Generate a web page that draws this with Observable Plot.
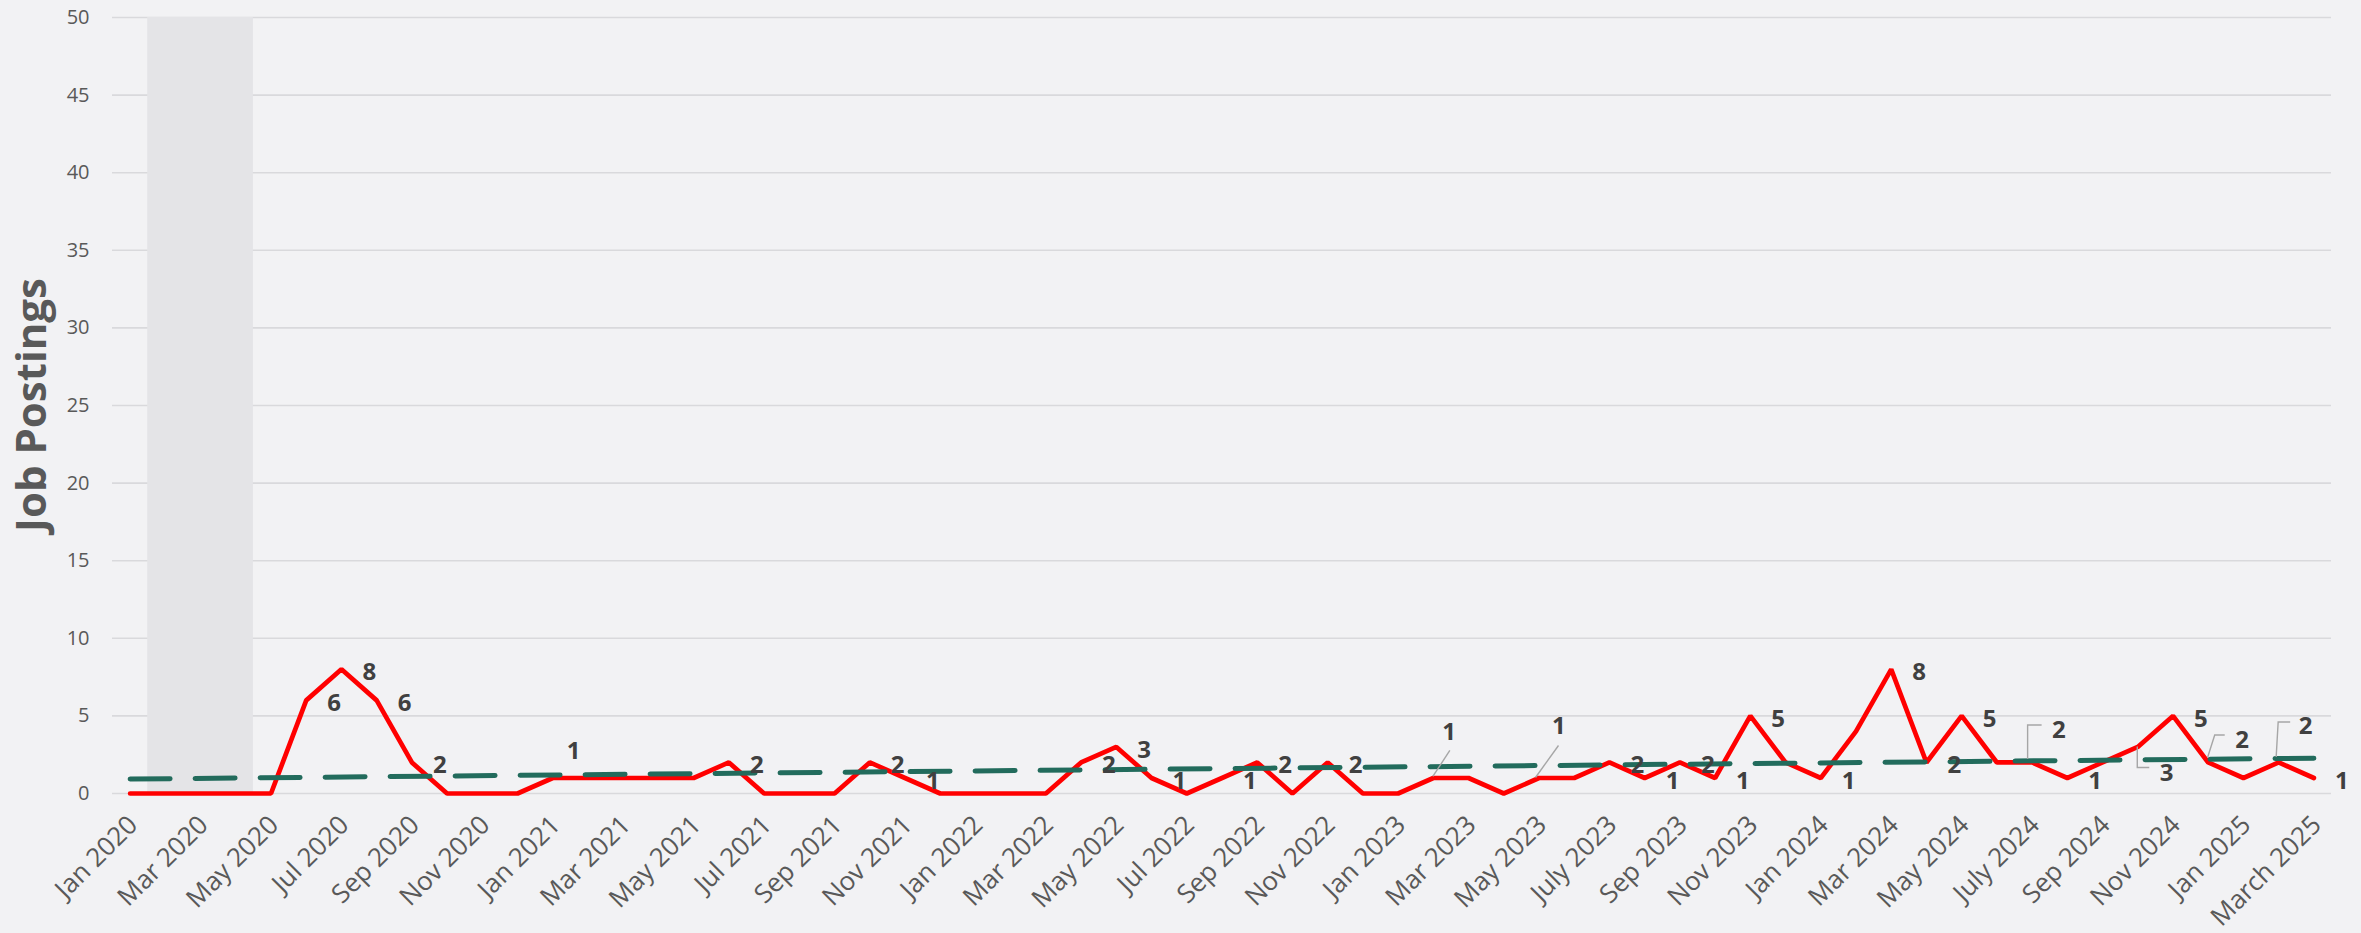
<!DOCTYPE html>
<html>
<head>
<meta charset="utf-8">
<script src="https://cdn.jsdelivr.net/npm/d3@7"></script>
<script src="https://cdn.jsdelivr.net/npm/@observablehq/plot@0.6"></script>
<style>
  html, body { margin: 0; padding: 0; background: #f2f2f4; }
  #chart svg { display: block; }
</style>
</head>
<body>
<div id="chart"></div>
<script>
// ---- Data ----
// Monthly job postings, Jan 2020 .. Mar 2025 (63 months)
const postings = [
  0, 0, 0, 0, 0, 6, 8, 6, 2, 0, 0, 0,      // 2020
  1, 1, 1, 1, 1, 2, 0, 0, 0, 2, 1, 0,      // 2021
  0, 0, 0, 2, 3, 1, 0, 1, 2, 0, 2, 0,      // 2022
  0, 1, 1, 0, 1, 1, 2, 1, 2, 1, 5, 2,      // 2023
  1, 4, 8, 2, 5, 2, 2, 1, 2, 3, 5, 2,      // 2024
  1, 2, 1                                  // 2025
];
// Tick labels shown on every second month
const tickLabels = [
  "Jan 2020", "Mar 2020", "May 2020", "Jul 2020", "Sep 2020", "Nov 2020",
  "Jan 2021", "Mar 2021", "May 2021", "Jul 2021", "Sep 2021", "Nov 2021",
  "Jan 2022", "Mar 2022", "May 2022", "Jul 2022", "Sep 2022", "Nov 2022",
  "Jan 2023", "Mar 2023", "May 2023", "July 2023", "Sep 2023", "Nov 2023",
  "Jan 2024", "Mar 2024", "May 2024", "July 2024", "Sep 2024", "Nov 2024",
  "Jan 2025", "March 2025"
];
// Months (by index) that carry a data label
const labeledMonths = [5, 6, 7, 8, 12, 17, 21, 22, 27, 28, 29, 31, 32, 34, 37, 40,
  42, 43, 44, 45, 46, 48, 50, 51, 52, 54, 55, 57, 58, 59, 61, 62];
// Shaded period (month indices): Feb 2020 – Apr 2020
const shadedPeriod = [{ from: 1, to: 3 }];
const yTicks = [0, 5, 10, 15, 20, 25, 30, 35, 40, 45, 50];
const yTitle = "Job Postings";

// ---- Layout of moved labels (pixel nudges, leader polylines) ----
const labelNudges = {
  12: { dx: 14, dy: -30 },
  37: { dx: 9, dy: -49, leader: [[0, -1], [17, -27]] },
  40: { dx: 13, dy: -55, leader: [[-3, 0], [20, -32]] },
  54: { dx: 20, dy: -35, leader: [[-4, -3], [-4, -37], [10, -37]] },
  57: { dx: 22, dy: 23, leader: [[0, 0], [0, 21], [12, 21]] },
  59: { dx: 27, dy: -25, leader: [[0, -5], [7, -27], [17, -27]] },
  61: { dx: 20, dy: -39, leader: [[-2, -5], [0, -40], [12, -40]] }
};

const rows = postings.map((v, i) => ({ i, v }));
const normalLabels = labeledMonths.filter(i => !(i in labelNudges)).map(i => rows[i]);

const labelStyle = {
  x: "i", y: "v", text: d => String(d.v),
  textAnchor: "start", lineAnchor: "middle",
  fill: "#404040", fontWeight: 700, fontSize: 24,
  fontFamily: "'Open Sans', sans-serif"
};

const nudgedMarks = Object.entries(labelNudges).map(([k, n]) =>
  Plot.text([rows[+k]], { ...labelStyle, dx: n.dx, dy: n.dy + 3 })
);

const chart = Plot.plot({
  width: 2361,
  height: 933,
  marginLeft: 112,
  marginRight: 30,
  marginTop: 17,
  marginBottom: 140,
  style: {
    background: "#f2f2f4",
    fontFamily: "'Open Sans', sans-serif",
    fontSize: "20px",
    color: "#595959",
    overflow: "visible"
  },
  x: { domain: [-0.5, postings.length - 0.5], axis: null },
  y: { domain: [0, 50], axis: null },
  marks: [
    Plot.ruleY(yTicks, { stroke: "#d9d9dc", strokeWidth: 1.6 }),
    Plot.rect(shadedPeriod, { x1: d => d.from - 0.5, x2: d => d.to + 0.5, y1: 0, y2: 50, fill: "#e4e4e7" }),
    Plot.axisY({ ticks: yTicks, tickSize: 0, tickPadding: 23, label: null, fontSize: 20, fill: "#595959" }),
    Plot.axisX({
      ticks: tickLabels.map((_, k) => k * 2),
      tickFormat: i => tickLabels[i / 2],
      tickRotate: -45, tickSize: 0, tickPadding: 27, dx: 3,
      textAnchor: "end", lineAnchor: "middle",
      label: null, fontSize: 26, fill: "#595959"
    }),
    Plot.line(rows, { x: "i", y: "v", stroke: "#ff0000", strokeWidth: 4.7, strokeLinejoin: "miter", strokeLinecap: "round" }),
    Plot.linearRegressionY(rows, {
      x: "i", y: "v", ci: 0,
      stroke: "#226b5c", strokeWidth: 5,
      strokeDasharray: "40 25", strokeLinecap: "round"
    }),
    Plot.text(normalLabels, { ...labelStyle, dx: 21, dy: 3 }),
    ...nudgedMarks
  ]
});

const svg = d3.select(chart);
const X = chart.scale("x"), Y = chart.scale("y");
// leader lines for moved labels
Object.entries(labelNudges).forEach(([k, n]) => {
  if (!n.leader) return;
  const px = X.apply(+k), py = Y.apply(postings[+k]);
  svg.append("path")
    .attr("d", d3.line()(n.leader.map(([a, b]) => [px + a, py + b])))
    .attr("fill", "none")
    .attr("stroke", "#a6a6a6")
    .attr("stroke-width", 1.4);
});
// y axis title
svg.append("text")
  .attr("transform", `translate(46,${(Y.apply(0) + Y.apply(50)) / 2}) rotate(-90)`)
  .attr("text-anchor", "middle")
  .attr("fill", "#595959")
  .attr("font-family", "'Open Sans', sans-serif")
  .attr("font-weight", 700)
  .attr("font-size", 42)
  .text(yTitle);

document.getElementById("chart").appendChild(chart);
</script>
</body>
</html>
